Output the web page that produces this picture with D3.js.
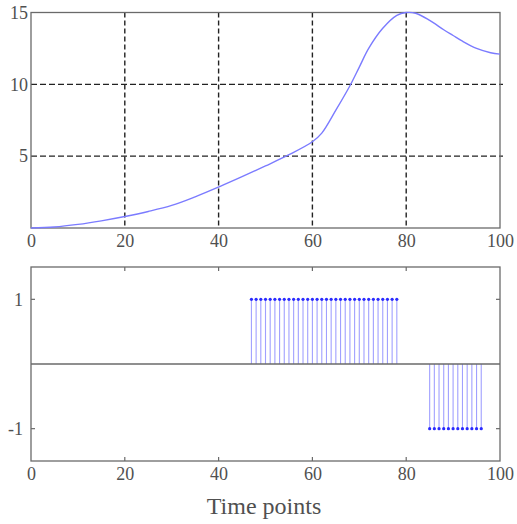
<!DOCTYPE html>
<html>
<head>
<meta charset="utf-8">
<script src="https://cdn.jsdelivr.net/npm/d3@7"></script>
<style>
  html, body { margin: 0; padding: 0; background: #fff; }
  svg text { font-family: "Liberation Serif", "Times New Roman", serif; fill: #505050; }
</style>
</head>
<body>
<svg id="chart" width="517" height="524"></svg>
<script>
// ---- data ----
const xTicks = [0, 20, 40, 60, 80, 100];
const topYTicks = [5, 10, 15];
const bottomYTicks = [-1, 1];
const curveX = [0, 5, 10, 15, 20, 25, 30, 35, 40, 45, 50, 55, 60, 62, 65, 68, 70, 72, 75, 78, 80, 82, 85, 88, 90, 92, 95, 98, 100];
const curveY = [0, 0.07, 0.25, 0.5, 0.8, 1.15, 1.57, 2.17, 2.85, 3.57, 4.32, 5.1, 6.0, 6.6, 8.2, 9.9, 11.2, 12.5, 13.9, 14.8, 15.0, 14.95, 14.45, 13.8, 13.4, 13.0, 12.5, 12.2, 12.1];
const stemX = [47,48,49,50,51,52,53,54,55,56,57,58,59,60,61,62,63,64,65,66,67,68,69,70,71,72,73,74,75,76,77,78,
               85,86,87,88,89,90,91,92,93,94,95,96];
const stemY = [1,1,1,1,1,1,1,1,1,1,1,1,1,1,1,1,1,1,1,1,1,1,1,1,1,1,1,1,1,1,1,1,
               -1,-1,-1,-1,-1,-1,-1,-1,-1,-1,-1,-1];
const xLabel = "Time points";

// ---- layout ----
const svg = d3.select("#chart");
const L = 31, R = 500;
const topP = { t: 12.5, b: 228 };
const botP = { t: 267, b: 461 };
const axisColor = "#6a6a6a";

const x = d3.scaleLinear().domain([0, 100]).range([L, R]);
const yTop = d3.scaleLinear().domain([0, 15]).range([topP.b, topP.t]);
const yBot = d3.scaleLinear().domain([-1.5, 1.5]).range([botP.b, botP.t]);

// ===== top panel =====
const gt = svg.append("g");
gt.selectAll("line.vg").data(xTicks.filter(d => d > 0 && d < 100)).enter().append("line")
  .attr("x1", d => x(d)).attr("x2", d => x(d)).attr("y1", topP.t).attr("y2", topP.b)
  .attr("stroke", "#222").attr("stroke-width", 1.4).attr("stroke-dasharray", "5,3");
gt.selectAll("line.hg").data(topYTicks.filter(d => d < 15)).enter().append("line")
  .attr("x1", L).attr("x2", R + 3).attr("y1", d => yTop(d)).attr("y2", d => yTop(d))
  .attr("stroke", "#222").attr("stroke-width", 1.4).attr("stroke-dasharray", "6,3");
gt.append("rect").attr("x", L).attr("y", topP.t).attr("width", R - L).attr("height", topP.b - topP.t)
  .attr("fill", "none").attr("stroke", axisColor).attr("stroke-width", 1.3);
const pts = curveX.map((d, i) => [d, curveY[i]]);
gt.append("path").datum(pts)
  .attr("d", d3.line().x(d => x(d[0])).y(d => yTop(d[1])).curve(d3.curveCatmullRom.alpha(0.5)))
  .attr("fill", "none").attr("stroke", "#7b7bff").attr("stroke-width", 1.4);
const axTopX = d3.axisBottom(x).tickValues(xTicks).tickSize(0).tickPadding(6);
gt.append("g").attr("transform", `translate(0,${topP.b})`).call(axTopX)
  .call(g => g.select(".domain").remove())
  .selectAll("text").attr("font-size", 18).attr("font-family", "Liberation Serif").attr("fill", "#505050");
const axTopY = d3.axisLeft(yTop).tickValues(topYTicks).tickSize(0).tickPadding(3);
gt.append("g").attr("transform", `translate(${L},0)`).call(axTopY)
  .call(g => g.select(".domain").remove())
  .selectAll("text").attr("font-size", 18).attr("font-family", "Liberation Serif").attr("fill", "#505050");

// ===== bottom panel =====
const gb = svg.append("g");
gb.append("rect").attr("x", L).attr("y", botP.t).attr("width", R - L).attr("height", botP.b - botP.t)
  .attr("fill", "none").attr("stroke", axisColor).attr("stroke-width", 1.3);
const innerX = xTicks.filter(d => d > 0 && d < 100);
gb.selectAll("line.tt").data(innerX).enter().append("line")
  .attr("x1", d => x(d)).attr("x2", d => x(d)).attr("y1", botP.t).attr("y2", botP.t + 4)
  .attr("stroke", axisColor).attr("stroke-width", 1.2);
gb.selectAll("line.bt").data(innerX).enter().append("line")
  .attr("x1", d => x(d)).attr("x2", d => x(d)).attr("y1", botP.b).attr("y2", botP.b - 4)
  .attr("stroke", axisColor).attr("stroke-width", 1.2);
gb.selectAll("line.lt").data(bottomYTicks).enter().append("line")
  .attr("x1", L).attr("x2", L + 4).attr("y1", d => yBot(d)).attr("y2", d => yBot(d))
  .attr("stroke", axisColor).attr("stroke-width", 1.2);
gb.selectAll("line.rt").data(bottomYTicks).enter().append("line")
  .attr("x1", R).attr("x2", R - 4).attr("y1", d => yBot(d)).attr("y2", d => yBot(d))
  .attr("stroke", axisColor).attr("stroke-width", 1.2);
gb.selectAll("line.stem").data(stemX.map((d, i) => [d, stemY[i]])).enter().append("line")
  .attr("x1", d => x(d[0])).attr("x2", d => x(d[0])).attr("y1", yBot(0)).attr("y2", d => yBot(d[1]))
  .attr("stroke", "#8f8fff").attr("stroke-width", 1.1).attr("stroke-opacity", 0.85);
gb.append("line").attr("x1", L).attr("x2", R).attr("y1", yBot(0)).attr("y2", yBot(0))
  .attr("stroke", axisColor).attr("stroke-width", 1.4);
gb.selectAll("circle.mk").data(stemX.map((d, i) => [d, stemY[i]])).enter().append("circle")
  .attr("cx", d => x(d[0])).attr("cy", d => yBot(d[1])).attr("r", 1.6)
  .attr("fill", "#2a2aff");
const axBotX = d3.axisBottom(x).tickValues(xTicks).tickSize(0).tickPadding(6);
gb.append("g").attr("transform", `translate(0,${botP.b})`).call(axBotX)
  .call(g => g.select(".domain").remove())
  .selectAll("text").attr("font-size", 18).attr("font-family", "Liberation Serif").attr("fill", "#505050");
const axBotY = d3.axisLeft(yBot).tickValues(bottomYTicks).tickFormat(d => String(d)).tickSize(0).tickPadding(8);
gb.append("g").attr("transform", `translate(${L},0)`).call(axBotY)
  .call(g => g.select(".domain").remove())
  .selectAll("text").attr("font-size", 18).attr("font-family", "Liberation Serif").attr("fill", "#505050");

svg.append("text").attr("x", 264).attr("y", 514).attr("text-anchor", "middle")
  .attr("font-size", 24).attr("fill", "#505050").text(xLabel);
</script>
</body>
</html>
